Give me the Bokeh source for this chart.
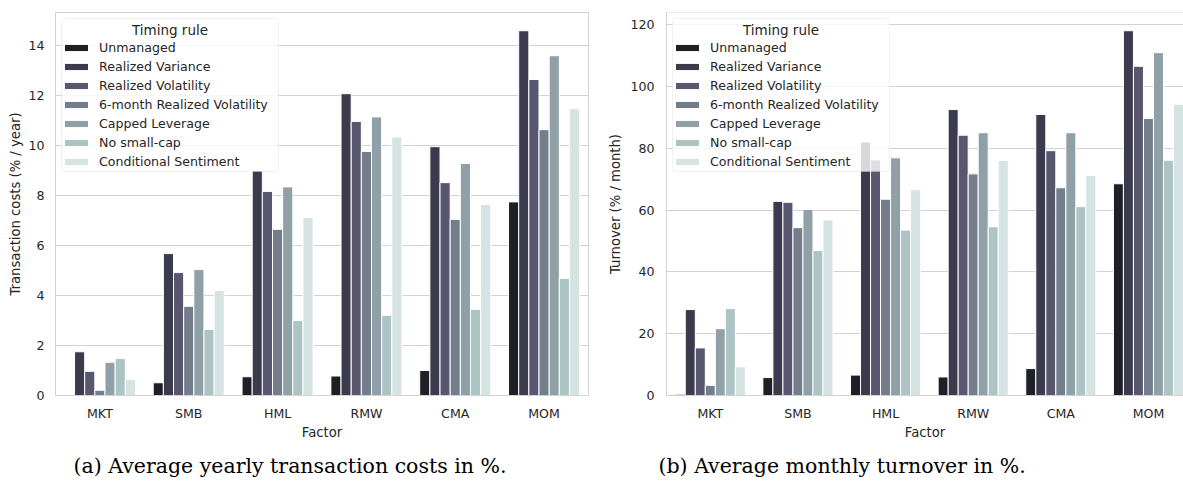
from bokeh.plotting import figure
from bokeh.models import (ColumnDataSource, Range1d, FixedTicker, Legend,
                          LegendItem, Label, Span, BoxAnnotation, Title)
from bokeh.layouts import row, column
from bokeh.embed import file_html
from bokeh.resources import INLINE

# ---------------- data ----------------
FACTORS = ["MKT", "SMB", "HML", "RMW", "CMA", "MOM"]
RULES = ["Unmanaged", "Realized Variance", "Realized Volatility",
         "6-month Realized Volatility", "Capped Leverage", "No small-cap",
         "Conditional Sentiment"]
COLORS = ["#1f1f28", "#3c3b4d", "#58576f", "#737d8b", "#8fa0a7", "#adc4c5", "#d6e3e3"]

# (a) average yearly transaction costs, % / year
tc_unmanaged = [0.02, 0.51, 0.75, 0.78, 1.00, 7.75]
tc_realized_variance = [1.75, 5.68, 9.00, 12.08, 9.96, 14.60]
tc_realized_volatility = [0.97, 4.92, 8.17, 10.97, 8.52, 12.65]
tc_6m_realized_volatility = [0.21, 3.57, 6.65, 9.77, 7.05, 10.64]
tc_capped_leverage = [1.33, 5.04, 8.35, 11.15, 9.29, 13.60]
tc_no_small_cap = [1.48, 2.64, 3.00, 3.21, 3.45, 4.69]
tc_conditional_sentiment = [0.65, 4.21, 7.13, 10.35, 7.64, 11.48]

# (b) average monthly turnover, % / month
to_unmanaged = [0.4, 5.8, 6.6, 6.0, 8.7, 68.5]
to_realized_variance = [27.8, 62.8, 82.0, 92.5, 90.9, 118.0]
to_realized_volatility = [15.4, 62.5, 76.2, 84.2, 79.2, 106.5]
to_6m_realized_volatility = [3.3, 54.3, 63.5, 71.7, 67.2, 89.6]
to_capped_leverage = [21.6, 60.2, 76.9, 85.0, 85.0, 110.9]
to_no_small_cap = [28.1, 46.9, 53.5, 54.6, 61.1, 76.1]
to_conditional_sentiment = [9.3, 56.8, 66.6, 76.0, 71.2, 94.2]

TC_SERIES = [tc_unmanaged, tc_realized_variance, tc_realized_volatility,
             tc_6m_realized_volatility, tc_capped_leverage, tc_no_small_cap,
             tc_conditional_sentiment]
TO_SERIES = [to_unmanaged, to_realized_variance, to_realized_volatility,
             to_6m_realized_volatility, to_capped_leverage, to_no_small_cap,
             to_conditional_sentiment]

TC_TICKS = [0, 2, 4, 6, 8, 10, 12, 14]
TO_TICKS = [0, 20, 40, 60, 80, 100, 120]

CAPTION_A = "(a) Average yearly transaction costs in %."
CAPTION_B = "(b) Average monthly turnover in %."

# ---------------- style ----------------
TEXT = "#262626"
GRID = "#d2d2d2"
SANS = "DejaVu Sans"
SERIF = "DejaVu Serif"
H_MAIN = 442
H_CAP = 484 - H_MAIN
FRAME_TOP = 12
FRAME_H = 384
BW = 0.8 / 7


def build(series, ymax, yticks, ylabel, width, b_left, b_right,
          x_end, ytick_standoff, ylab_standoff, full_frame):
    p = figure(width=width, height=H_MAIN, x_range=Range1d(-0.5, x_end),
               y_range=Range1d(0, ymax), output_backend="svg",
               toolbar_location=None, min_border_left=b_left,
               min_border_right=b_right, min_border_top=FRAME_TOP,
               min_border_bottom=H_MAIN - FRAME_TOP - FRAME_H)
    p.background_fill_color = "white"
    p.border_fill_color = "white"
    p.outline_line_color = GRID if full_frame else None

    renderers = []
    for j, vals in enumerate(series):
        xs = [i + (j - 3) * BW for i in range(len(FACTORS))]
        src = ColumnDataSource(dict(x=xs, top=vals))
        r = p.vbar(x="x", top="top", bottom=0, width=BW, source=src,
                   fill_color=COLORS[j], line_color="white", line_width=1)
        renderers.append(r)

    xa = p.xaxis[0]
    ya = p.yaxis[0]
    xa.ticker = FixedTicker(ticks=list(range(len(FACTORS))))
    xa.major_label_overrides = {i: f for i, f in enumerate(FACTORS)}
    xa.axis_label = "Factor"
    xa.major_label_standoff = 10
    xa.axis_label_standoff = 1
    ya.ticker = FixedTicker(ticks=yticks)
    ya.axis_label = ylabel
    ya.major_label_standoff = ytick_standoff
    ya.axis_label_standoff = ylab_standoff
    for ax in (xa, ya):
        ax.axis_line_color = GRID
        ax.major_tick_line_color = None
        ax.minor_tick_line_color = None
        ax.major_tick_out = 0
        ax.major_tick_in = 0
        ax.major_label_text_font = SANS
        ax.major_label_text_font_size = "12.6px"
        ax.major_label_text_color = TEXT
        ax.axis_label_text_font = SANS
        ax.axis_label_text_font_size = "13.2px"
        ax.axis_label_text_color = TEXT
        ax.axis_label_text_font_style = "normal"

    p.xgrid.visible = False
    p.ygrid.ticker = FixedTicker(ticks=yticks)
    p.ygrid.grid_line_color = GRID
    p.ygrid.grid_line_width = 1

    if not full_frame:
        p.add_layout(Span(location=ymax, dimension="width",
                          line_color=GRID, line_width=1))

    # legend frame (semi-transparent white box) drawn separately
    box = BoxAnnotation(left=6, right=223, top=FRAME_H - 7, bottom=FRAME_H - 160,
                        left_units="screen", right_units="screen",
                        top_units="screen", bottom_units="screen",
                        fill_color="white", fill_alpha=0.8,
                        line_color=GRID, line_width=1, level="annotation",
                        editable=False)
    if "border_radius" in BoxAnnotation.properties():
        box.border_radius = 3
    p.add_layout(box)

    p.add_layout(Label(x=114.5, y=FRAME_H - 18, x_units="screen",
                       y_units="screen", text="Timing rule",
                       text_align="center", text_baseline="middle",
                       text_font=SANS, text_font_size="13.5px",
                       text_color=TEXT, level="overlay"))

    legend = Legend(
        items=[LegendItem(label=RULES[j], renderers=[renderers[j]])
               for j in range(len(RULES))],
        location="top_left", margin=6, padding=4, spacing=1,
        label_height=18, glyph_height=9, glyph_width=30, label_standoff=8,
        title=" ", title_text_font_size="13.5px", title_standoff=5,
        label_text_font=SANS, label_text_font_size="12.6px",
        label_text_color=TEXT, background_fill_alpha=0,
        border_line_color=None)
    p.add_layout(legend)
    return p


def caption_fig(text, width, b_left, b_right, offset):
    c = figure(width=width, height=H_CAP, x_range=Range1d(0, 1),
               y_range=Range1d(0, 1), output_backend="svg",
               toolbar_location=None, min_border_left=b_left,
               min_border_right=b_right, min_border_top=0,
               min_border_bottom=0, x_axis_type=None, y_axis_type=None)
    c.outline_line_color = None
    c.grid.visible = False
    c.add_layout(Title(text=text, align="left", offset=offset, standoff=14,
                       vertical_align="bottom", text_font=SERIF,
                       text_font_size="20.5px", text_font_style="normal",
                       text_color="black"), "below")
    return c


p1 = build(TC_SERIES, 15.33, TC_TICKS, "Transaction costs (% / year)",
           600, 55, 12, 5.5, 11, 2, True)
p2 = build(TO_SERIES, 123.9, TO_TICKS, "Turnover (% / month)",
           583, 66, 0, 5.40, 12, 4, False)
c1 = caption_fig(CAPTION_A, 600, 55, 12, 18)
c2 = caption_fig(CAPTION_B, 583, 66, 0, -8)

layout = row(column(p1, c1), column(p2, c2))
open("out.html", "w").write(file_html(layout, INLINE))
